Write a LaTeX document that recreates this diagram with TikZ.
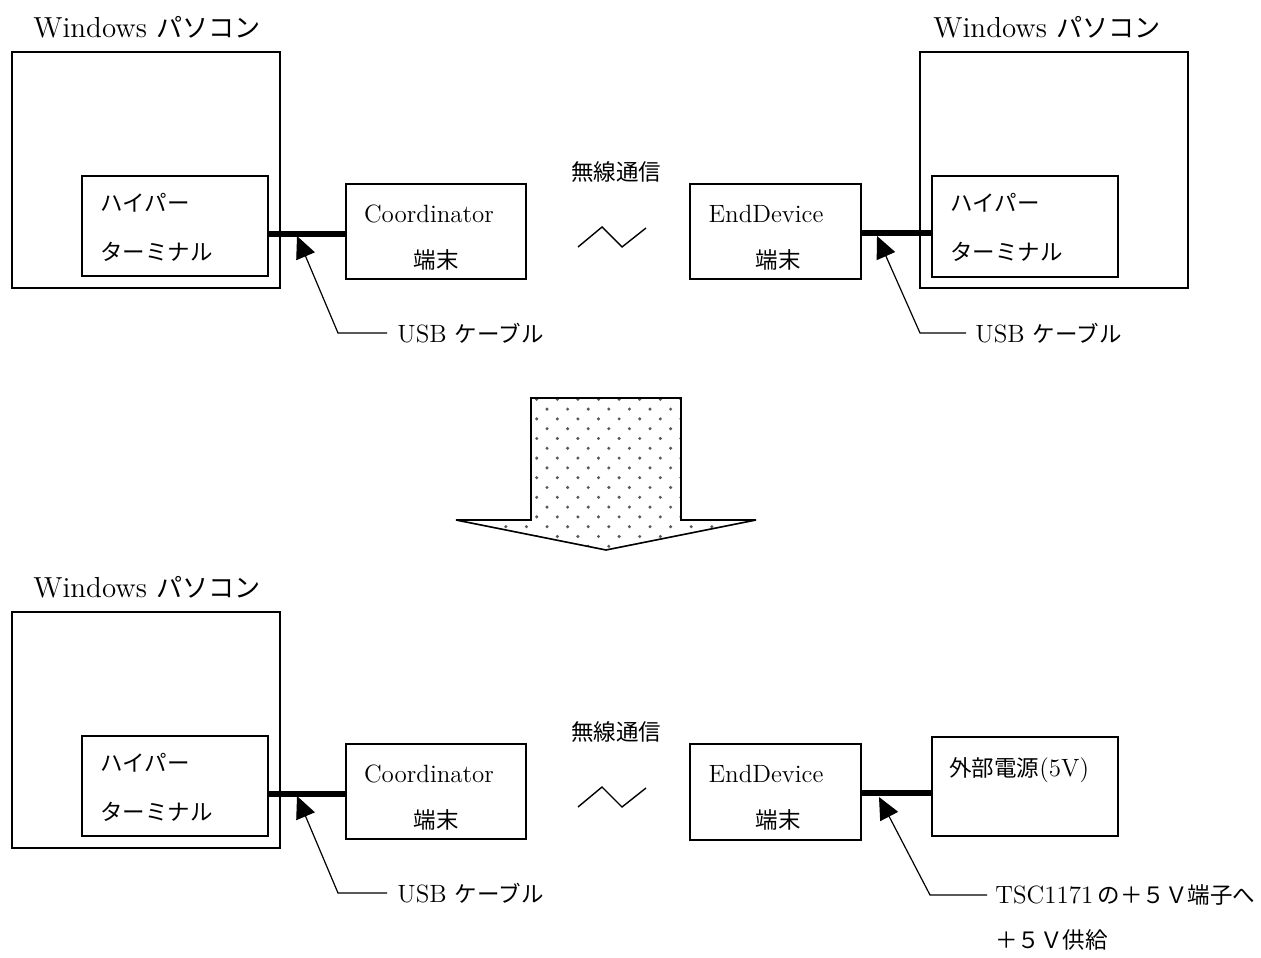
\documentclass[tikz,border=0pt]{standalone}
\usepackage{fontspec}
\newfontfamily\jp[Scale=0.9]{Noto Sans CJK JP}
\usetikzlibrary{arrows.meta,fit}

\begin{document}
\begin{tikzpicture}[x=0.5pt,y=-0.5pt,
    box/.style={draw, line width=0.7pt, inner sep=0pt},
    cable/.style={line width=2.6pt},
    pointer/.style={line width=0.6pt, -{Triangle[length=11pt,width=10pt]}},
    radio/.style={line width=0.7pt},
    title/.style={font=\fontsize{14.5}{17}\selectfont, inner sep=0pt, anchor=west},
    txt/.style={font=\fontsize{12.5}{15}\selectfont, inner sep=0pt}]
  \useasboundingbox (0,0) rectangle (1261,957);

  % before: USB on both sides
  \node[title] (pcAname) at (33,27) {Windows {\jp パソコン}};
  \node[box, fit={(12,52) (280,288)}] (pcA) {};
  \node[box, fit={(82,176) (268,276)}] (termA) {};
  \node[txt, anchor=west] (termAa) at (100,203) {\jp ハイパー};
  \node[txt, anchor=west] (termAb) at (100,252) {\jp ターミナル};
  \node[box, fit={(346,184) (526,279)}] (coordA) {};
  \node[txt] (coordAa) at (429,214) {Coordinator};
  \node[txt] (coordAb) at (436,260) {\jp 端末};
  \node[txt] (radioA) at (616,172) {\jp 無線通信};
  \draw[radio] (578,247) -- (602,227) -- (622,247) -- (646,228);
  \node[box, fit={(690,184) (861,279)}] (endA) {};
  \node[txt] (endAa) at (766,214) {EndDevice};
  \node[txt] (endAb) at (778,260) {\jp 端末};
  \node[title] (pcBname) at (933,27) {Windows {\jp パソコン}};
  \node[box, fit={(920,52) (1188,288)}] (pcB) {};
  \node[box, fit={(932,176) (1118,277)}] (termB) {};
  \node[txt, anchor=west] (termBa) at (950,203) {\jp ハイパー};
  \node[txt, anchor=west] (termBb) at (950,252) {\jp ターミナル};
  \draw[cable] (termA.east |- 0,234) -- (coordA.west |- 0,234);
  \draw[cable] (endA.east |- 0,233) -- (termB.west |- 0,233);
  \coordinate (tipA) at (297,236);
  \coordinate (bendA) at (338,333);
  \node[txt, anchor=west] (usbA) at (397,333) {USB {\jp ケーブル}};
  \draw[pointer] ([xshift=-5pt]usbA.west) -- (bendA) -- (tipA);
  \coordinate (tipB) at (877,236);
  \coordinate (bendB) at (920,333);
  \node[txt, anchor=west] (usbB) at (975,333) {USB {\jp ケーブル}};
  \draw[pointer] ([xshift=-4.5pt]usbB.west) -- (bendB) -- (tipB);

  % big dotted arrow
  \begin{scope}
    \clip (531,398) -- (681,398) -- (681,520) -- (756,520) -- (606,550)
      -- (456,520) -- (531,520) -- cycle;
    \foreach \r in {0,...,15}
      \foreach \c in {0,...,15}
        \fill[black!65] ({454.3+20.6*\c+10.3*mod(\r,2)},{399.3+9.8*\r}) circle (0.85pt);
  \end{scope}
  \draw[line width=0.8pt] (531,398) -- (681,398) -- (681,520) -- (756,520)
    -- (606,550) -- (456,520) -- (531,520) -- cycle;

  % after: EndDevice on external power
  \node[title] (pcCname) at (33,587) {Windows {\jp パソコン}};
  \node[box, fit={(12,612) (280,848)}] (pcC) {};
  \node[box, fit={(82,736) (268,836)}] (termC) {};
  \node[txt, anchor=west] (termCa) at (100,763) {\jp ハイパー};
  \node[txt, anchor=west] (termCb) at (100,812) {\jp ターミナル};
  \node[box, fit={(346,744) (526,839)}] (coordC) {};
  \node[txt] (coordCa) at (429,774) {Coordinator};
  \node[txt] (coordCb) at (436,820) {\jp 端末};
  \node[txt] (radioC) at (616,732) {\jp 無線通信};
  \draw[radio] (578,807) -- (602,787) -- (622,807) -- (646,788);
  \node[box, fit={(690,744) (861,840)}] (endC) {};
  \node[txt] (endCa) at (766,774) {EndDevice};
  \node[txt] (endCb) at (778,820) {\jp 端末};
  \node[box, fit={(932,737) (1118,836)}] (power) {};
  \node[txt, anchor=west] (powera) at (949,770) {{\jp 外部電源}(5V)};
  \draw[cable] (termC.east |- 0,794) -- (coordC.west |- 0,794);
  \draw[cable] (endC.east |- 0,793) -- (power.west |- 0,793);
  \coordinate (tipC) at (297,796);
  \coordinate (bendC) at (338,893);
  \node[txt, anchor=west] (usbC) at (397,893) {USB {\jp ケーブル}};
  \draw[pointer] ([xshift=-5pt]usbC.west) -- (bendC) -- (tipC);
  \coordinate (tipD) at (879,797);
  \coordinate (bendD) at (930,895);
  \node[txt, anchor=west] (tscD) at (995,895) {TSC1171\,{\jp の＋５Ｖ端子へ}};
  \node[txt, anchor=west] (tscDb) at (995,940) {\jp ＋５Ｖ供給};
  \draw[pointer] ([xshift=-4pt]tscD.west) -- (bendD) -- (tipD);
\end{tikzpicture}
\end{document}
